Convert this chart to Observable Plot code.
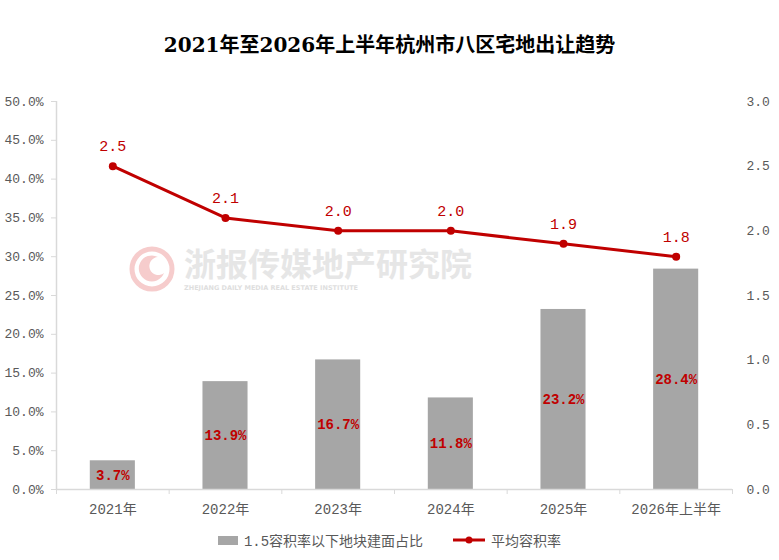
<!DOCTYPE html>
<html>
<head>
<meta charset="utf-8">
<script src="https://cdn.jsdelivr.net/npm/d3@7"></script>
<script src="https://cdn.jsdelivr.net/npm/@observablehq/plot@0.6"></script>
<style>
body{margin:0;background:#fff;width:779px;height:560px;overflow:hidden;position:relative;font-family:'Liberation Mono','Noto Sans CJK SC',monospace;}
#title{height:70px;box-sizing:border-box;padding-top:33px;text-align:center;font:bold 20px/24px 'DejaVu Serif','Noto Sans CJK SC',serif;color:#000;}
#chart{position:relative;z-index:1;height:455px;}
#legend{display:flex;justify-content:center;align-items:center;gap:30px;font-size:14px;color:#595959;height:30px;}
#legend .item{display:flex;align-items:center;gap:6px;}
#legend .sw-bar{width:20px;height:9px;background:#a6a6a6;}
#watermark{position:absolute;left:128px;top:244px;z-index:0;display:flex;align-items:center;gap:8px;}
#watermark .name{font:bold 32px/36px 'Noto Sans CJK SC',sans-serif;color:#e6e6e6;}
#watermark .sub{font:bold 6.5px/9px 'DejaVu Sans',sans-serif;color:#dedede;margin-top:4px;}
</style>
</head>
<body>
<div id="title">2021年至2026年上半年杭州市八区宅地出让趋势</div>
<div id="watermark">
  <svg width="48" height="48" viewBox="0 0 48 48">
    <circle cx="24" cy="24" r="20" fill="none" stroke="#f6cccc" stroke-width="5"/>
    <path d="M30 12 A13 13 0 1 0 36 28 A9 9 0 1 1 30 12 Z" fill="#f6cccc"/>
  </svg>
  <div>
    <div class="name">浙报传媒地产研究院</div>
    <div class="sub">ZHEJIANG DAILY MEDIA REAL ESTATE INSTITUTE</div>
  </div>
</div>
<div id="chart"></div>
<div id="legend">
  <div class="item"><div class="sw-bar"></div><span>1.5容积率以下地块建面占比</span></div>
  <div class="item"><svg width="32" height="10"><line x1="0" y1="5" x2="32" y2="5" stroke="#c00000" stroke-width="3"/><circle cx="16" cy="5" r="3.5" fill="#c00000"/></svg><span>平均容积率</span></div>
</div>
<script>
// categories and series
const years = ["2021年", "2022年", "2023年", "2024年", "2025年", "2026年上半年"];
const shareBelow15 = [3.7, 13.9, 16.7, 11.8, 23.2, 28.4];   // % (left axis)
const avgFar = [2.5, 2.1, 2.0, 2.0, 1.9, 1.8];              // 平均容积率 (right axis)
const leftTicks = [0, 5, 10, 15, 20, 25, 30, 35, 40, 45, 50];
const rightTicks = [0, 0.5, 1.0, 1.5, 2.0, 2.5, 3.0];

const red = "#c00000";
const grey = "#a6a6a6";
const axisGrey = "#d9d9d9";
const k = 50 / 3; // right axis -> left axis units

const rows = years.map((y, i) => ({i, year: y, share: shareBelow15[i], far: avgFar[i]}));
const mid = d => d.i + 0.5;

const chart = Plot.plot({
  width: 779,
  height: 455,
  marginTop: 31,
  marginBottom: 36,
  marginLeft: 56,
  marginRight: 47,
  style: {background: "transparent", color: "#595959", fontFamily: "'Liberation Mono','Noto Sans CJK SC',monospace", fontSize: "13px"},
  x: {type: "linear", domain: [0, years.length]},
  y: {domain: [0, 50]},
  marks: [
    Plot.rectY(rows, {x1: d => d.i + 0.3, x2: d => d.i + 0.7, y: "share", fill: grey}),
    Plot.ruleY([0], {stroke: axisGrey, strokeWidth: 1.5}),
    Plot.ruleX([0], {stroke: axisGrey, strokeWidth: 1.5}),
    Plot.axisY(leftTicks, {anchor: "left", tickSize: 5, tickPadding: 8, stroke: axisGrey, tickFormat: d => d.toFixed(1) + "%", label: null, fontSize: 13}),
    Plot.axisY(rightTicks.map(v => v * k), {anchor: "right", tickSize: 0, tickPadding: 14, textAnchor: "start", tickFormat: d => (d / k).toFixed(1), label: null, fontSize: 13}),
    Plot.axisX(d3.range(0, years.length + 1), {tickSize: 5, stroke: axisGrey, tickFormat: () => "", label: null}),
    Plot.axisX(rows.map(mid), {tickSize: 0, tickPadding: 15, tickFormat: v => years[Math.floor(v)], label: null, fontSize: 14}),
    Plot.text(rows, {x: mid, y: d => d.share / 2, text: d => d.share.toFixed(1) + "%", fill: red, fontWeight: "bold", fontSize: 14}),
    Plot.line(rows, {x: mid, y: d => d.far * k, stroke: red, strokeWidth: 3}),
    Plot.dot(rows, {x: mid, y: d => d.far * k, r: 4, fill: red}),
    Plot.text(rows, {x: mid, y: d => d.far * k, text: d => d.far.toFixed(1), dy: -20, fill: red, fontSize: 15})
  ]
});

document.querySelector("#chart").append(chart);
</script>
</body>
</html>
